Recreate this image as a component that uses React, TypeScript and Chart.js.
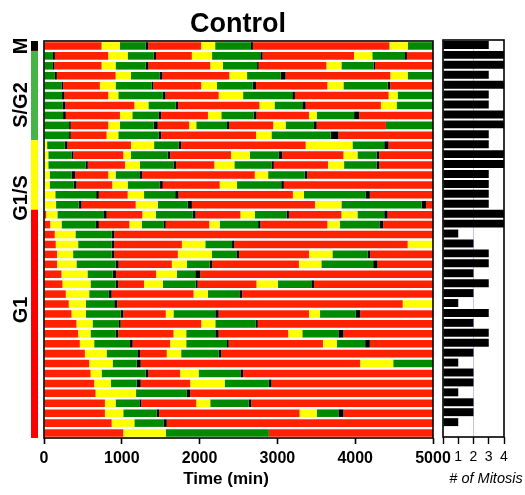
import { useEffect, useRef } from "react";
import { Chart, registerables } from "chart.js";

Chart.register(...registerables);

const FONT = "Arial, 'Liberation Sans', Helvetica, sans-serif";

// phases: 0 = G1 (red), 1 = G1/S (yellow), 2 = S/G2 (green), 3 = M (black)
const phaseColors = ["#ff2200", "#ffff00", "#008a00", "#000000"];

const groupLabels = ["M", "S/G2", "G1/S", "G1"];
const groupSizes = [1, 9, 7, 23];
const groupColors = ["#000000", "#46b446", "#ffff00", "#ff0000"];

const timeTicks = [0, 1000, 2000, 3000, 4000, 5000];
const timeMax = 5000;
const mitosisMax = 4;

const cells = [
  "1", "2", "3", "4", "5", "6", "7", "8", "9", "10",
  "11", "12", "13", "14", "15", "16", "17", "18", "19", "20",
  "21", "22", "23", "24", "25", "26", "27", "28", "29", "30",
  "31", "32", "33", "34", "35", "36", "37", "38", "39", "40",
];

// phase of each cell at time 0
const startPhase = [
  0,
  2, 2, 2, 2, 2, 2, 2, 2, 2,
  1, 1, 1, 1, 1, 1, 1,
  0, 0, 0, 0, 0, 0, 0, 0, 0, 0, 0, 0, 0, 0, 0, 0, 0, 0, 0, 0, 0, 0, 0,
];

// phase transition times (min); phases cycle G1 -> G1/S -> S/G2 -> M -> G1
const transitions = [
  [740, 975, 1305, 1340, 2020, 2200, 2660, 2685, 4440, 4675],
  [115, 140, 825, 1075, 1410, 1440, 1900, 2160, 2780, 2810, 3985, 4220, 4640, 4665],
  [108, 133, 740, 920, 1307, 1342, 2137, 2300, 2739, 2760, 3629, 3823, 4236, 4255],
  [140, 165, 920, 1118, 1484, 1522, 2382, 2610, 3040, 3105, 4451, 4674],
  [224, 245, 718, 920, 1385, 1406, 2021, 2223, 2683, 2726, 3642, 3849, 4416, 4451],
  [232, 262, 826, 955, 1527, 1561, 2245, 2559, 3191, 3225, 4429, 4545],
  [237, 275, 1161, 1342, 1694, 1724, 2769, 2963, 3320, 3363, 4330, 4532],
  [245, 280, 976, 1135, 1471, 1505, 2107, 2279, 2696, 2731, 3406, 3505, 3986, 4051],
  [323, 344, 826, 976, 1410, 1462, 1866, 1957, 2352, 2382, 2946, 3105, 3470, 3505, 4395, 4395],
  [323, 344, 804, 955, 1471, 1505, 2726, 2924, 3685, 3784],
  [40, 267, 301, 1118, 1415, 1729, 1763, 3363, 3965, 4373, 4429],
  [55, 353, 378, 1019, 1118, 1591, 1621, 2404, 2645, 3019, 3062, 3849, 4029, 4274, 4309],
  [55, 533, 563, 1041, 1234, 1664, 1699, 2189, 2447, 2924, 2954, 3651, 3857, 4274, 4309],
  [73, 357, 400, 826, 920, 1234, 1264, 2709, 2881, 3350, 3384],
  [73, 383, 417, 877, 1075, 1484, 1527, 2258, 2481, 3049, 3083],
  [145, 670, 705, 1075, 1286, 1686, 1729, 3199, 3341, 4137, 4188],
  [155, 445, 482, 1178, 1462, 1845, 1901, 3483, 3823, 4855, 4911],
  [28, 172, 763, 806, 1264, 1436, 1913, 1948, 2524, 2709, 3118, 3148, 3823, 4029, 4373, 4416],
  [80, 226, 667, 705, 1097, 1256, 1535, 1565, 2124, 2258, 2752, 2782, 3642, 3801, 4317, 4360],
  [138, 404, 869, 903],
  [151, 439, 869, 903, 1772, 2073, 2417, 2447, 4674],
  [168, 374, 869, 903, 1720, 2159, 2473, 2507, 3406, 3707, 4158, 4193],
  [168, 417, 920, 959, 1643, 1836, 2129, 2163, 3277, 3565, 4231, 4287],
  [224, 559, 882, 925, 1441, 1707, 1944, 2008],
  [237, 598, 920, 955, 1286, 1527, 1950, 1975, 2731, 3006, 3436, 3470],
  [280, 581, 834, 869, 1922, 2107, 2511, 2546],
  [318, 538, 903, 942, 4610],
  [353, 538, 985, 1019, 1565, 1664, 2202, 2245, 3406, 3548, 4008, 4064],
  [417, 624, 963, 985, 2021, 2202, 2718, 2748],
  [439, 598, 920, 955, 1664, 1828, 2202, 2245, 3139, 3320, 3784, 3849],
  [460, 645, 1105, 1140, 1621, 1828, 2352, 2374, 3586, 3763, 4128, 4188],
  [525, 804, 1200, 1234, 1578, 1763, 2245, 2279],
  [581, 882, 1191, 1243, 4064, 4489],
  [598, 740, 1307, 1342, 1750, 1987, 2524, 2559],
  [645, 860, 1191, 1243, 1879, 2322, 2890, 2924],
  [662, 1183, 1836, 1879],
  [783, 920, 1226, 1250, 1957, 2137, 2632, 2662],
  [783, 1019, 1449, 1479, 3285, 3505, 3784, 3849],
  [869, 1161, 1535, 1578],
  [1019, 1565, 2890, 2890],
];

const mitosisCounts = [
  3, 4, 4, 3, 4, 3, 3, 4, 4, 3,
  3, 4, 4, 3, 3, 3, 3, 4, 4, 1,
  2, 3, 3, 2, 3, 2, 1, 3, 2, 3,
  3, 2, 1, 2, 2, 1, 2, 2, 1, 0,
];

type Seg = { s: number; e: number; p: number };

function buildSegments(): Seg[][] {
  return transitions.map((b, r) => {
    const edges = [0, ...b, timeMax];
    const out: Seg[] = [];
    for (let i = 0; i < edges.length - 1; i++) {
      out.push({ s: edges[i], e: edges[i + 1], p: (startPhase[r] + i) % 4 });
    }
    return out;
  });
}

const mainDecor = {
  id: "mainDecor",
  afterDraw(chart: any) {
    const { ctx, chartArea } = chart;
    const { left, right, top, bottom } = chartArea;
    ctx.save();
    // frame
    ctx.strokeStyle = "#000";
    ctx.lineWidth = 1.6;
    ctx.strokeRect(left, top, right - left, bottom - top);
    // phase group bar on the left
    const rowH = (bottom - top) / cells.length;
    let idx = 0;
    groupSizes.forEach((n, g) => {
      const y0 = top + idx * rowH;
      const y1 = top + (idx + n) * rowH;
      ctx.fillStyle = groupColors[g];
      ctx.fillRect(31, y0, 7, y1 - y0);
      idx += n;
    });
    // group labels (rotated)
    const labelY = [46, 105, 198, 310];
    ctx.fillStyle = "#000";
    ctx.font = `bold 20px ${FONT}`;
    ctx.textAlign = "center";
    ctx.textBaseline = "alphabetic";
    groupLabels.forEach((t, i) => {
      ctx.save();
      ctx.translate(27, labelY[i]);
      ctx.rotate(-Math.PI / 2);
      ctx.fillText(t, 0, 0);
      ctx.restore();
    });
    // title
    ctx.font = `bold 27px ${FONT}`;
    ctx.fillText("Control", 238, 32);
    // x axis title
    ctx.font = `bold 17px ${FONT}`;
    ctx.fillText("Time (min)", 226, 484);
    ctx.restore();
  },
};

const mitosisDecor = {
  id: "mitosisDecor",
  afterDraw(chart: any) {
    const { ctx, chartArea } = chart;
    const { left, right, top, bottom } = chartArea;
    ctx.save();
    ctx.strokeStyle = "#000";
    ctx.lineWidth = 1.6;
    ctx.strokeRect(left, top, right - left, bottom - top);
    ctx.fillStyle = "#000";
    ctx.font = `italic 14.5px ${FONT}`;
    ctx.textAlign = "center";
    ctx.textBaseline = "alphabetic";
    ctx.fillText("# of Mitosis", 486, 483);
    ctx.restore();
  },
};

export default function App() {
  const mainRef = useRef<HTMLCanvasElement | null>(null);
  const mitRef = useRef<HTMLCanvasElement | null>(null);

  useEffect(() => {
    const segs = buildSegments();
    const maxSeg = Math.max(...segs.map((r) => r.length));
    const datasets: any[] = [];
    for (let k = 0; k < maxSeg; k++) {
      datasets.push({
        data: segs.map((row) => (row[k] ? [row[k].s, row[k].e] : null)),
        backgroundColor: segs.map((row) => (row[k] ? phaseColors[row[k].p] : "transparent")),
        borderWidth: 0,
        grouped: false,
        barPercentage: 0.76,
        categoryPercentage: 1,
      });
    }

    const main = new Chart(mainRef.current as HTMLCanvasElement, {
      type: "bar",
      data: { labels: cells, datasets },
      options: {
        indexAxis: "y",
        responsive: false,
        animation: false,
        layout: { padding: { left: 44, right: 92, top: 41, bottom: 0 } },
        plugins: { legend: { display: false }, tooltip: { enabled: false } },
        scales: {
          y: { type: "category", display: false, grid: { display: false } },
          x: {
            type: "linear",
            min: 0,
            max: timeMax,
            afterFit: (s: any) => {
              s.height = 57;
            },
            afterBuildTicks: (s: any) => {
              s.ticks = timeTicks.map((v) => ({ value: v }));
            },
            border: { display: false },
            grid: {
              drawOnChartArea: false,
              drawTicks: true,
              tickLength: 6,
              tickColor: "#000",
              tickWidth: 1.6,
            },
            ticks: {
              color: "#000",
              padding: 5,
              maxRotation: 0,
              autoSkip: false,
              font: { family: FONT, size: 16, weight: "bold" },
              callback: (v: any) => String(v),
            },
          },
        },
      } as any,
      plugins: [mainDecor],
    });

    const mit = new Chart(mitRef.current as HTMLCanvasElement, {
      type: "bar",
      data: {
        labels: cells,
        datasets: [
          {
            data: mitosisCounts,
            backgroundColor: "#000",
            borderWidth: 0,
            barPercentage: 0.8,
            categoryPercentage: 1,
          },
        ],
      },
      options: {
        indexAxis: "y",
        responsive: false,
        animation: false,
        layout: { padding: { left: 443, right: 21, top: 40, bottom: 0 } },
        plugins: { legend: { display: false }, tooltip: { enabled: false } },
        scales: {
          y: { type: "category", display: false, grid: { display: false } },
          x: {
            type: "linear",
            min: 0,
            max: mitosisMax,
            afterFit: (s: any) => {
              s.height = 58;
            },
            border: { display: false },
            grid: {
              drawOnChartArea: true,
              drawTicks: true,
              tickLength: 7,
              tickColor: "#000",
              tickWidth: 1.4,
              color: (c: any) => (c.tick && c.tick.value === 2 ? "#c4c4ec" : "rgba(0,0,0,0)"),
            },
            ticks: {
              stepSize: 1,
              color: "#000",
              padding: 5,
              maxRotation: 0,
              autoSkip: false,
              font: { family: FONT, size: 14 },
              callback: (v: any) => (v === 0 ? "" : String(v)),
            },
          },
        },
      } as any,
      plugins: [mitosisDecor],
    });

    return () => {
      main.destroy();
      mit.destroy();
    };
  }, []);

  return (
    <div style={{ position: "absolute", left: 0, top: 0, width: 525, height: 495, background: "#fff" }}>
      <canvas ref={mainRef} width={525} height={495} style={{ position: "absolute", left: 0, top: 0 }} />
      <canvas ref={mitRef} width={525} height={495} style={{ position: "absolute", left: 0, top: 0 }} />
    </div>
  );
}
